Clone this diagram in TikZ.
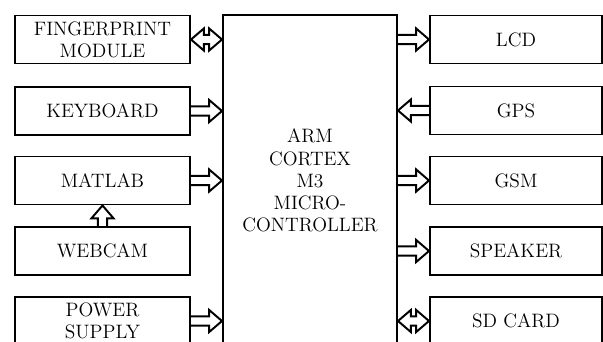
\documentclass[tikz,border=0pt]{standalone}
\usetikzlibrary{calc}
\tikzset{
  block/.style={draw, line width=1.4pt, minimum height=1.2cm, align=center, inner sep=2pt,
    font=\fontsize{13.8}{15.8}\selectfont},
  leftblock/.style={block, minimum width=4.375cm},
  rightblock/.style={block, minimum width=4.3cm},
  bus/.style={line width=1.4pt, line join=miter, to path={
    ($(\tikztotarget)!3.2mm!(\tikztostart)$) coordinate (hb)
    ($(\tikztostart)!1.15mm!90:(\tikztotarget)$) -- ($(hb)!1.15mm!90:(\tikztotarget)$)
    -- ($(hb)!2.75mm!90:(\tikztotarget)$) -- (\tikztotarget)
    -- ($(hb)!2.75mm!-90:(\tikztotarget)$) -- ($(hb)!1.15mm!-90:(\tikztotarget)$)
    -- ($(\tikztostart)!1.15mm!-90:(\tikztotarget)$)}},
  busboth/.style={line width=1.4pt, line join=miter, to path={
    ($(\tikztotarget)!3.2mm!(\tikztostart)$) coordinate (hb)
    ($(\tikztostart)!3.2mm!(\tikztotarget)$) coordinate (ha)
    (\tikztostart) -- ($(ha)!2.75mm!90:(\tikztotarget)$) -- ($(ha)!1.15mm!90:(\tikztotarget)$)
    -- ($(hb)!1.15mm!90:(\tikztotarget)$) -- ($(hb)!2.75mm!90:(\tikztotarget)$) -- (\tikztotarget)
    -- ($(hb)!2.75mm!-90:(\tikztotarget)$) -- ($(hb)!1.15mm!-90:(\tikztotarget)$)
    -- ($(ha)!1.15mm!-90:(\tikztotarget)$) -- ($(ha)!2.75mm!-90:(\tikztotarget)$) -- cycle}}
}
\begin{document}
\begin{tikzpicture}[x=0.025cm,y=-0.025cm]
\useasboundingbox (0,0) rectangle (603,341);
\clip (0,0) rectangle (603,341);

\node[leftblock] (finger) at (102.5,39.5) {FINGERPRINT\\MODULE};
\node[leftblock] (keyboard) at (102.5,111) {KEYBOARD};
\node[leftblock] (matlab) at (102.5,180.5) {MATLAB};
\node[leftblock] (webcam) at (102.5,251) {WEBCAM};
\node[leftblock] (power) at (102.5,321) {POWER\\SUPPLY};

\node[block, minimum width=4.35cm, minimum height=8.275cm] (mcu) at (310,180.5) {ARM\\CORTEX\\M3\\MICRO-\\CONTROLLER};

\node[rightblock] (lcd) at (516,39.5) {LCD};
\node[rightblock] (gps) at (516,110.5) {GPS};
\node[rightblock] (gsm) at (516,180.5) {GSM};
\node[rightblock] (speaker) at (516,251) {SPEAKER};
\node[rightblock] (sdcard) at (516,321) {SD CARD};

\draw[busboth] (finger.east) to (finger.east -| mcu.west);
\draw[bus] (keyboard.east) to (keyboard.east -| mcu.west);
\draw[bus] (matlab.east) to (matlab.east -| mcu.west);
\draw[bus] (webcam.north) to (matlab.south);
\draw[bus] (power.east) to (power.east -| mcu.west);

\draw[bus] (lcd.west -| mcu.east) to (lcd.west);
\draw[bus] (gps.west) to (gps.west -| mcu.east);
\draw[bus] (gsm.west -| mcu.east) to (gsm.west);
\draw[bus] (speaker.west -| mcu.east) to (speaker.west);
\draw[busboth] (sdcard.west -| mcu.east) to (sdcard.west);
\end{tikzpicture}
\end{document}
